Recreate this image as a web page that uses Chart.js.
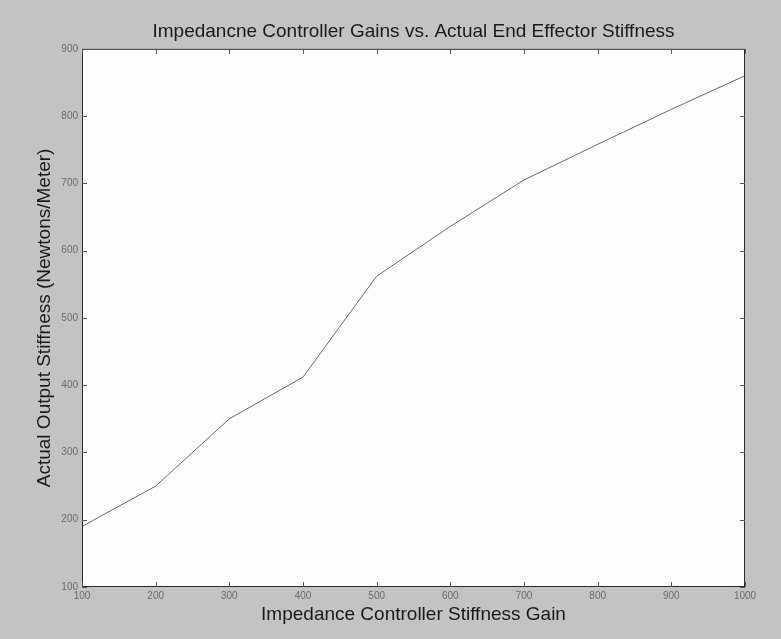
<!DOCTYPE html>
<html>
<head>
<meta charset="utf-8">
<script src="https://cdn.jsdelivr.net/npm/chart.js@4"></script>
<style>
  html, body { margin: 0; padding: 0; background: #c3c3c3; }
  #wrap { width: 781px; height: 639px; position: relative; }
</style>
</head>
<body>
<div id="wrap"><canvas id="chart"></canvas></div>
<script>
const gains = [100, 200, 300, 400, 500, 600, 700, 800, 900, 1000];
const stiffness = [190, 250, 350, 412, 562, 636, 705, 758, 810, 860];
const xTicks = [100, 200, 300, 400, 500, 600, 700, 800, 900, 1000];
const yTicks = [100, 200, 300, 400, 500, 600, 700, 800, 900];

const titleText = "Impedancne Controller Gains vs. Actual End Effector Stiffness";
const xLabel = "Impedance Controller Stiffness Gain";
const yLabel = "Actual Output Stiffness (Newtons/Meter)";

// grey figure background + white axes area
const framePlugin = {
  id: "frame",
  beforeDraw(chart) {
    const { ctx, chartArea: a } = chart;
    ctx.save();
    ctx.fillStyle = "#c3c3c3";
    ctx.fillRect(0, 0, chart.width, chart.height);
    ctx.fillStyle = "#fdfdfd";
    ctx.fillRect(a.left, a.top, a.right - a.left, a.bottom - a.top);
    ctx.restore();
  },
  // matlab style box with inward ticks on all four sides
  afterDraw(chart) {
    const { ctx, chartArea: a } = chart;
    const xs = chart.scales.x;
    const ys = chart.scales.y;
    const len = 5;
    ctx.save();
    ctx.strokeStyle = "#2a2a2a";
    ctx.lineWidth = 1;
    ctx.strokeRect(a.left + 0.5, a.top + 0.5, a.right - a.left - 1, a.bottom - a.top - 1);
    ctx.strokeStyle = "#555";
    ctx.beginPath();
    xTicks.forEach((v) => {
      const px = Math.round(xs.getPixelForValue(v)) + 0.5;
      ctx.moveTo(px, a.bottom);
      ctx.lineTo(px, a.bottom - len);
      ctx.moveTo(px, a.top);
      ctx.lineTo(px, a.top + len);
    });
    yTicks.forEach((v) => {
      const py = Math.round(ys.getPixelForValue(v)) + 0.5;
      ctx.moveTo(a.left, py);
      ctx.lineTo(a.left + len, py);
      ctx.moveTo(a.right, py);
      ctx.lineTo(a.right - len, py);
    });
    ctx.stroke();
    ctx.restore();
  },
};

Chart.defaults.font.family = "Arial, 'Liberation Sans', sans-serif";

new Chart(document.getElementById("chart"), {
  type: "line",
  data: {
    datasets: [
      {
        data: gains.map((g, i) => ({ x: g, y: stiffness[i] })),
        borderColor: "#666",
        borderWidth: 1,
        pointRadius: 0,
        tension: 0,
      },
    ],
  },
  options: {
    responsive: true,
    maintainAspectRatio: false,
    animation: false,
    layout: { padding: { left: 0, right: 36, top: 0, bottom: 0 } },
    plugins: {
      legend: { display: false },
      tooltip: { enabled: false },
      title: {
        display: true,
        fullSize: false,
        text: titleText,
        color: "#1a1a1a",
        font: { size: 19, weight: "normal" },
        padding: { top: 20, bottom: 6 },
      },
    },
    scales: {
      x: {
        type: "linear",
        min: 100,
        max: 1000,
        afterBuildTicks: (s) => { s.ticks = xTicks.map((v) => ({ value: v })); },
        afterFit: (s) => { s.height = 52; },
        grid: { display: false, drawTicks: false },
        border: { display: false },
        ticks: { color: "#6a6a6a", font: { size: 10 }, padding: 3, maxRotation: 0, callback: (v) => String(v) },
        title: {
          display: true,
          text: xLabel,
          color: "#1a1a1a",
          font: { size: 19 },
          padding: { top: 0, bottom: 13 },
        },
      },
      y: {
        type: "linear",
        min: 100,
        max: 900,
        afterBuildTicks: (s) => { s.ticks = yTicks.map((v) => ({ value: v })); },
        afterFit: (s) => { s.width = 82; },
        grid: { display: false, drawTicks: false },
        border: { display: false },
        ticks: { color: "#6a6a6a", font: { size: 10 }, padding: 4, callback: (v) => String(v) },
        title: {
          display: true,
          text: yLabel,
          color: "#1a1a1a",
          font: { size: 19 },
          padding: { top: 33, bottom: 0 },
        },
      },
    },
  },
  plugins: [framePlugin],
});
</script>
</body>
</html>
